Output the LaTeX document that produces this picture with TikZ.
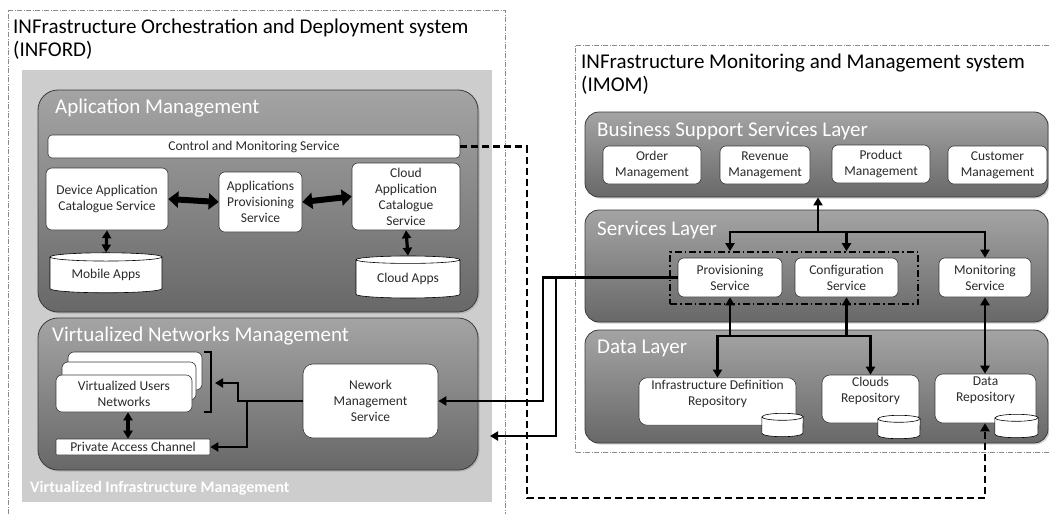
\documentclass[tikz,border=0pt]{standalone}
\usepackage{fontspec}
\setmainfont{Carlito}
\usetikzlibrary{arrows.meta,shapes.geometric,shadows}
\definecolor{layertop}{HTML}{A4A4A4}
\definecolor{layerbot}{HTML}{686868}
\definecolor{layerline}{HTML}{3A3A3A}
\definecolor{vimgray}{HTML}{CDCDCD}
\definecolor{boxtext}{HTML}{2A2A2A}
\definecolor{framegray}{HTML}{8C8C8C}
\tikzset{
	layer/.style={draw=layerline, line width=0.8pt, rounded corners=14pt,
			top color=layertop, bottom color=layerbot,
			drop shadow={shadow xshift=1.5pt, shadow yshift=-1.5pt, opacity=0.35}},
	layertitle/.style={anchor=north west, inner sep=0pt, text=white,
			font=\fontsize{21}{24}\selectfont},
	svc/.style={draw=layerline, line width=0.6pt, fill=white, rounded corners=6pt,
			align=center, text=boxtext, inner sep=2pt,
			font=\fontsize{13.5}{16}\selectfont},
	store/.style={cylinder, shape border rotate=90, aspect=0.12, draw=black,
			line width=0.6pt, fill=white, text=boxtext, inner sep=0pt,
			font=\fontsize{13.5}{16}\selectfont},
	dbbody/.style={inner sep=0pt, minimum height=16},
	sysframe/.style={draw=framegray, line width=0.6pt,
			dash pattern=on 5pt off 1.5pt on 1pt off 1.5pt},
	link/.style={line width=2.8pt, -{Triangle[length=8pt,width=9pt]}},
	twoway/.style={line width=2.8pt, {Triangle[length=8pt,width=9pt]}-{Triangle[length=8pt,width=9pt]}},
	fatway/.style={line width=6pt, {Triangle[length=10pt,width=16pt]}-{Triangle[length=10pt,width=16pt]}},
	ctrl/.style={line width=2.8pt, dash pattern=on 7pt off 4pt, -{Triangle[length=8pt,width=9pt]}}
}
% small database drum drawn round a dbbody node: #1 node, #2 half width
\newcommand{\dbdrum}[2]{%
	\draw[fill=white, line width=0.6pt] (#1.north west) -- (#1.south west)
		arc[start angle=180, end angle=360, x radius=#2pt, y radius=3.5pt] -- (#1.north east)
		arc[start angle=0, end angle=180, x radius=#2pt, y radius=3.5pt] -- cycle;
	\draw[line width=0.6pt] (#1.north west) arc[start angle=180, end angle=360, x radius=#2pt, y radius=3.5pt];
}
\begin{document}
\begin{tikzpicture}[x=1pt, y=-1pt]
	\useasboundingbox (0,0) rectangle (1049,514);

	% INFORD
	\draw[sysframe] (8,514) |- (505,10) -- (505,514);
	\node[anchor=north west, inner sep=0pt, align=left, font=\fontsize{21}{23}\selectfont] (infordt) at (13,19)
		{INFrastructure Orchestration and Deployment system\\(INFORD)};
	\node[fill=vimgray, minimum width=470, minimum height=432, inner sep=0pt] (vim) at (257,286) {};
	\node[anchor=north west, inner sep=0pt, text=white, font=\fontsize{16}{18}\selectfont\bfseries] (vimt) at (30,481)
		{Virtualized Infrastructure Management};

	\node[layer, rounded corners=20pt, minimum width=440, minimum height=222] (appm) at (258,201) {};
	\node[layertitle] (appmt) at (55,99) {Aplication Management};
	\node[svc, rounded corners=4pt, minimum width=412, minimum height=23] (cms) at (254,146.5) {Control and Monitoring Service};
	\node[svc, minimum width=122, minimum height=62] (dacs) at (107,199) {Device Application\\Catalogue Service};
	\node[svc, minimum width=83, minimum height=60] (aps) at (260.5,202) {Applications\\Provisioning\\Service};
	\node[svc, minimum width=108, minimum height=67] (cacs) at (406,196.5) {Cloud\\Application\\Catalogue\\Service};
	\node[store, minimum width=112, minimum height=40] (mobile) at (106,275) {Mobile Apps};
	\node[store, minimum width=104, minimum height=42] (cloudapps) at (408,279) {Cloud Apps};
	\draw[fatway] (dacs.east) -- (aps.west);
	\draw[fatway] (aps.east) -- (cacs.west);
	\draw[twoway, line width=3.2pt] (dacs.south) -- (mobile.north);
	\draw[twoway, line width=3.2pt] (cacs.south) -- (cloudapps.north);

	\node[layer, rounded corners=20pt, minimum width=440, minimum height=152] (vnm) at (258,394) {};
	\node[layertitle] (vnmt) at (52,327) {Virtualized Networks Management};
	\node[svc, minimum width=134, minimum height=38] (vun3) at (135,371) {};
	\node[svc, minimum width=134, minimum height=38] (vun2) at (129,381) {};
	\node[svc, minimum width=136, minimum height=37] (vun) at (124,393.5) {Virtualized Users\\Networks};
	\draw[line width=1.6pt] (204,352) -- (211,352) -- (211,412) -- (204,412);
	\node[svc, rounded corners=1pt, minimum width=154, minimum height=16, inner sep=1pt] (pac) at (133,447) {Private Access Channel};
	\node[svc, rounded corners=10pt, minimum width=135, minimum height=74] (nms) at (370.5,401) {Nework\\Management\\Service};
	\draw[twoway, line width=3.2pt] (vun.south -| 128,0) -- (pac.north -| 128,0);
	\coordinate (nj) at (247,401);
	\draw[link] (nms.west) -- (238,401) |- (215,383);
	\draw[link] (nj) |- (pac.east);

	% IMOM
	\draw[sysframe] (1049,45) -| (575,452) -- (1049,452);
	\node[anchor=north west, inner sep=0pt, align=left, font=\fontsize{21}{23}\selectfont] (imomt) at (581,54)
		{INFrastructure Monitoring and Management system\\(IMOM)};

	\node[layer, minimum width=463, minimum height=85] (bss) at (816.5,154.5) {};
	\node[layertitle] (bsst) at (597,122) {Business Support Services Layer};
	\node[svc, minimum width=98, minimum height=38] (order) at (652,165) {Order\\Management};
	\node[svc, minimum width=90, minimum height=38] (revenue) at (765,165) {Revenue\\Management};
	\node[svc, minimum width=98, minimum height=38] (product) at (881,164) {Product\\Management};
	\node[svc, minimum width=99, minimum height=38] (customer) at (997.5,165) {Customer\\Management};

	\node[layer, minimum width=463, minimum height=112] (sl) at (816.5,266) {};
	\node[layertitle] (slt) at (597,221) {Services Layer};
	\node[draw, line width=1.6pt, dash pattern=on 7pt off 3pt on 1.5pt off 3pt, minimum width=248, minimum height=52] (grp) at (794,278) {};
	\node[svc, minimum width=104, minimum height=39] (prov) at (730,277.5) {Provisioning\\Service};
	\node[svc, minimum width=103, minimum height=39] (conf) at (846.5,277.5) {Configuration\\Service};
	\node[svc, minimum width=92, minimum height=39] (mon) at (985,277.5) {Monitoring\\Service};

	\node[layer, minimum width=463, minimum height=113] (dl) at (816.5,386.5) {};
	\node[layertitle] (dlt) at (597,340) {Data Layer};
	\node[svc, rounded corners=8pt, minimum width=157, minimum height=47] (infra) at (717.5,401.5) {Infrastructure Definition\\Repository\\[2pt]};
	\node[svc, rounded corners=8pt, minimum width=97, minimum height=48] (clouds) at (870.5,399) {Clouds\\Repository\\[2pt]};
	\node[svc, rounded corners=8pt, minimum width=101, minimum height=49] (datarep) at (985.5,398.5) {Data\\Repository\\[2pt]};
	\node[dbbody, minimum width=41] (infradb) at (782.5,425) {};
	\node[dbbody, minimum width=42] (cloudsdb) at (899,427) {};
	\node[dbbody, minimum width=43] (datadb) at (1016.5,426) {};
	\dbdrum{infradb}{20.5}
	\dbdrum{cloudsdb}{21}
	\dbdrum{datadb}{21.5}

	\coordinate (sj) at (818,232);
	\draw[link] (sj) -- (sj |- bss.south);
	\draw[link] (sj) -| (prov.north |- grp.north);
	\draw[link] (sj) -| (conf.north |- grp.north);
	\draw[link] (sj) -| (mon.north);
	\coordinate (dj) at (800,336);
	\draw[link] (prov.south |- dj) -- (prov.south);
	\draw[link] (conf.south |- dj) -- (conf.south);
	\draw[link] (prov.south |- dj) -| (infra.north);
	\draw[link] (prov.south |- dj) -| (clouds.north);
	\draw[twoway] (mon.south) -- (mon.south |- datarep.north);

	% links between the systems
	\coordinate (vimedge) at (490,436);
	\draw[link] (prov.west) -- (543,277.5) |- (nms.east);
	\draw[link] (556,277.5) |- (vimedge);
	\coordinate (cj) at (527,498);
	\draw[ctrl] (cms.east) -| (cj) -| (datarep.south -| 985,0);
\end{tikzpicture}
\end{document}
